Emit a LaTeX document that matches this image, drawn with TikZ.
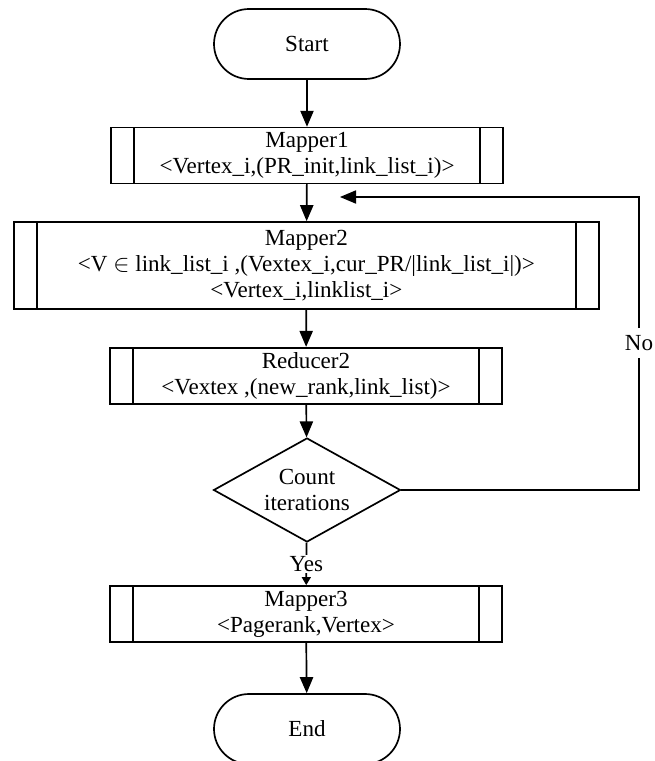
\documentclass[tikz,border=0pt]{standalone}
\usepackage{fontspec}
\setmainfont{Liberation Serif}
\usepackage{tikz}
\usetikzlibrary{shapes.geometric,arrows.meta}

\tikzset{
	terminal/.style={draw, line width=1.2pt, rounded corners=0.875cm, minimum width=4.65cm, minimum height=1.75cm},
	process/.style={draw, line width=1.2pt, align=center, minimum width=9.8cm, minimum height=1.4cm,
		path picture={\draw[line width=1.2pt]
			([xshift=0.575cm]path picture bounding box.north west) -- ([xshift=0.575cm]path picture bounding box.south west)
			([xshift=-0.575cm]path picture bounding box.north east) -- ([xshift=-0.575cm]path picture bounding box.south east);}},
	decision/.style={draw, diamond, line width=1.2pt, align=center, aspect=1.8, inner sep=0pt, minimum width=4.675cm, minimum height=2.6cm},
	flow/.style={line width=1.2pt, -{Triangle[length=0.4cm,width=0.33cm]}},
	loopline/.style={line width=0.8pt}
}

\begin{document}
\begin{tikzpicture}[font=\fontsize{16.4pt}{18.7pt}\selectfont]
		\useasboundingbox (0,0) rectangle (16.375,-19.025);
		
		\node[terminal] (start) at (7.675, -1.1) {Start};
		\node[process, minimum height=1.375cm] (mapper1) at (7.675, -3.8875) {Mapper1\\<Vertex\_i,(PR\_init,link\_list\_i)>};
		\node[process, minimum width=14.625cm, minimum height=2.175cm] (mapper2) at (7.66, -6.6375) {Mapper2\\<V $\in$ link\_list\_i ,(Vextex\_i,cur\_PR/|link\_list\_i|)>\\<Vertex\_i,linklist\_i>};
		\node[process] (reducer2) at (7.65, -9.4) {Reducer2\\<Vextex ,(new\_rank,link\_list)>};
		\node[decision] (count) at (7.675, -12.25) {Count\\iterations};
		\node[process] (mapper3) at (7.65, -15.35) {Mapper3\\<Pagerank,Vertex>};
		\node[terminal] (end) at (7.675, -18.225) {End};
		
		\draw[flow] (start) -- (mapper1);
		\draw[flow] (mapper1) -- (mapper2);
		\draw[flow] (mapper2) -- (reducer2);
		\draw[flow] (reducer2) -- (count);
		\draw[line width=1.2pt, -{Triangle[length=0.2cm,width=0.22cm]}] (count) -- node[fill=white, inner sep=1pt] (yes) {Yes} (mapper3);
		\draw[flow] (mapper3) -- (end);
		
		% loop back
		\node[inner sep=5pt] (no) at (15.975, -8.575) {No};
		\coordinate (loopright) at (15.975, -4.925);
		\coordinate (looptip) at (8.5, -4.925);
		\draw[loopline] (count.east) -| (no.south);
		\draw[loopline, -{Triangle[length=0.4cm,width=0.33cm]}] (no.north) -- (loopright) -- (looptip);
	\end{tikzpicture}
\end{document}
